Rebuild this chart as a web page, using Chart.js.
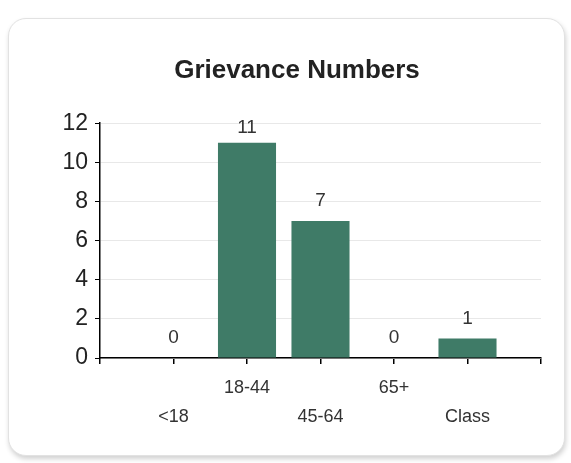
<!DOCTYPE html>
<html>
<head>
<meta charset="utf-8">
<title>Grievance Numbers</title>
<script src="https://cdn.jsdelivr.net/npm/chart.js@4.4.1/dist/chart.umd.min.js"></script>
<style>
    html, body { margin: 0; padding: 0; background: #fff; }
    #marco {
        position: absolute;
        left: 8px; top: 18px;
        width: 555px; height: 436px;
        border: 1px solid #e2e2e2;
        border-radius: 18px;
        box-shadow: 1px 3px 5px rgba(0, 0, 0, 0.18);
        background: #fff;
    }
    #grafico { position: absolute; left: 0; top: 0; }
</style>
</head>
<body>
<div id="marco"></div>
<canvas id="grafico" width="571" height="463"></canvas>
<script>
// Datos (las posiciones vacías de los extremos dejan el margen de Excel)
const categorias = ['', '<18', '18-44', '45-64', '65+', 'Class', ''];
const fila = [0, 1, 0, 1, 0, 1, 0]; // etiquetas escalonadas en dos filas
const quejas = [null, 0, 11, 7, 0, 1, null];
const ticksY = [0, 2, 4, 6, 8, 10, 12];

const colorBarra = '#3f7b67';
const fuente = '"Liberation Sans", Arial, sans-serif';

// Etiquetas de valor encima de cada barra
const etiquetasValor = {
    id: 'etiquetasValor',
    afterDatasetsDraw(chart) {
        const ctx = chart.ctx;
        const meta = chart.getDatasetMeta(0);
        ctx.save();
        ctx.font = '19px ' + fuente;
        ctx.fillStyle = '#333';
        ctx.textAlign = 'center';
        ctx.textBaseline = 'middle';
        meta.data.forEach((barra, i) => {
            const v = quejas[i];
            if (v === null) return;
            const y = Math.max(barra.y - 20, chart.chartArea.top + 5);
            ctx.fillText(String(v), barra.x, y);
        });
        ctx.restore();
    }
};

new Chart(document.getElementById('grafico'), {
    type: 'bar',
    data: {
        labels: categorias.map((c, i) => fila[i] ? ['', c] : [c]),
        datasets: [{
            data: quejas,
            backgroundColor: colorBarra,
            categoryPercentage: 1,
            barPercentage: 0.79
        }]
    },
    options: {
        responsive: false,
        animation: false,
        layout: { padding: { left: 53, right: 30, top: 0, bottom: 0 } },
        plugins: {
            legend: { display: false },
            tooltip: { enabled: false },
            title: {
                display: true,
                text: 'Grievance Numbers',
                color: '#222',
                font: { family: fuente, size: 26, weight: 'bold', lineHeight: 1.2 },
                padding: { top: 55, bottom: 37 }
            }
        },
        scales: {
            x: {
                offset: false,
                grid: {
                    offset: false,
                    drawOnChartArea: false,
                    color: '#000',
                    tickColor: '#000',
                    tickLength: 6,
                    lineWidth: 1.5
                },
                border: { color: '#000', width: 1.5 },
                ticks: {
                    color: '#333',
                    font: { family: fuente, size: 18, lineHeight: 1.6 },
                    padding: 10,
                    maxRotation: 0,
                    autoSkip: false
                },
                afterFit(scale) { scale.height = 105; }
            },
            y: {
                min: 0,
                max: 12,
                afterBuildTicks(scale) { scale.ticks = ticksY.map(v => ({ value: v })); },
                grid: {
                    color: '#e8e8e8',
                    tickColor: '#000',
                    tickLength: 5,
                    lineWidth: 1
                },
                border: { color: '#000', width: 1.5 },
                ticks: {
                    color: '#222',
                    font: { family: fuente, size: 23 },
                    padding: 7
                },
                afterFit(scale) { scale.width = 47; }
            }
        }
    },
    plugins: [etiquetasValor]
});
</script>
</body>
</html>
